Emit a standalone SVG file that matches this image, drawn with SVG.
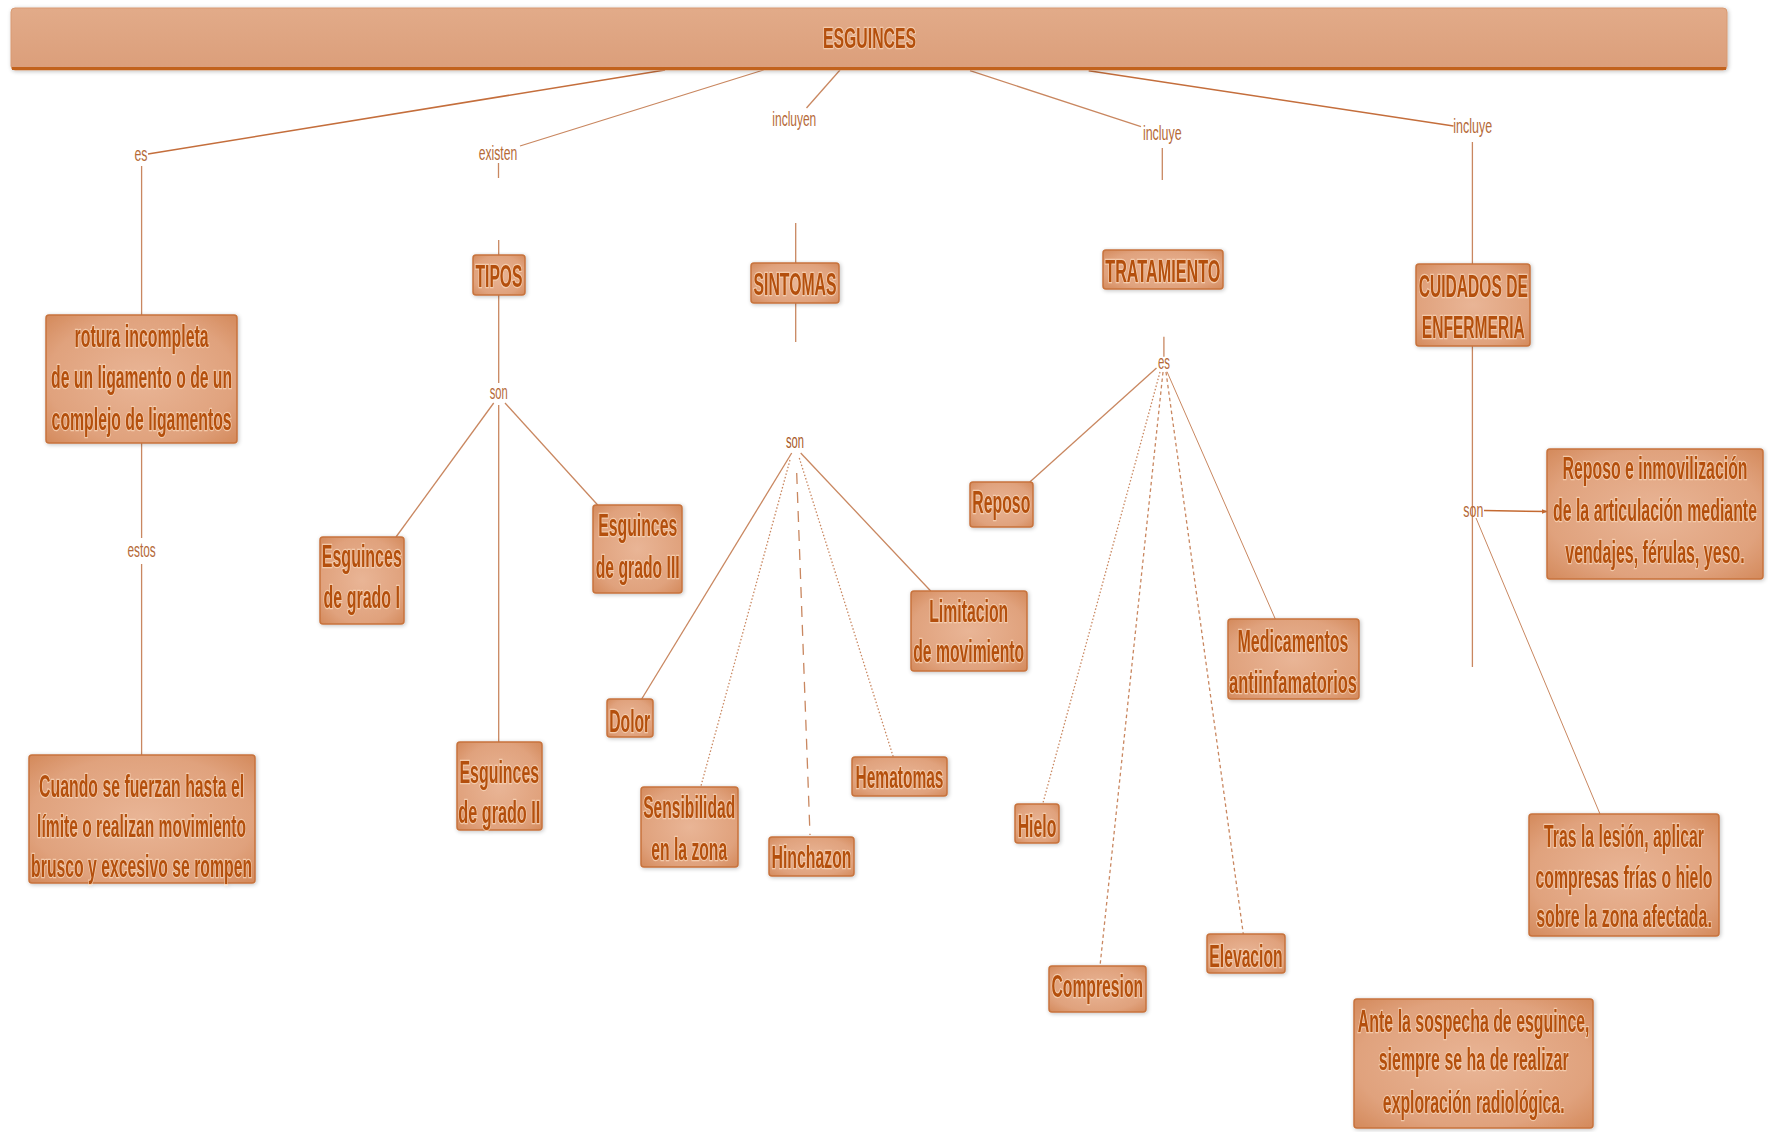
<svg xmlns="http://www.w3.org/2000/svg" width="1768" height="1132" viewBox="0 0 1768 1132">
<defs>
<radialGradient id="boxfill" cx="50%" cy="50%" r="70%">
<stop offset="0%" stop-color="#e9b596"/>
<stop offset="70%" stop-color="#e0a27d"/>
<stop offset="100%" stop-color="#d48a5c"/>
</radialGradient>
<linearGradient id="barfill" x1="0" y1="0" x2="0" y2="1">
<stop offset="0%" stop-color="#e2ab89"/>
<stop offset="100%" stop-color="#db9e7a"/>
</linearGradient>
<filter id="sh" x="-10%" y="-10%" width="130%" height="130%">
<feGaussianBlur in="SourceAlpha" stdDeviation="2"/>
<feOffset dx="1" dy="1" result="b"/>
<feComponentTransfer><feFuncA type="linear" slope="0.25"/></feComponentTransfer>
<feMerge><feMergeNode/><feMergeNode in="SourceGraphic"/></feMerge>
</filter>
<marker id="arr" viewBox="0 0 10 10" refX="9" refY="5" markerWidth="6" markerHeight="6" orient="auto" markerUnits="userSpaceOnUse">
<path d="M0,1 L10,5 L0,9 z" fill="#c46a32"/>
</marker>
</defs>
<style>
.box{fill:url(#boxfill);stroke:#c7733c;stroke-width:1.5}
.t{font-family:"Liberation Sans Narrow","Liberation Sans",Arial,sans-serif;font-weight:bold;font-size:31px;fill:#b4500c;text-anchor:middle;stroke:#f7d4b8;stroke-width:2.5;stroke-opacity:0.8;paint-order:stroke}
.lb{font-family:"Liberation Sans Narrow","Liberation Sans",Arial,sans-serif;font-size:20px;fill:#b56a38;text-anchor:middle}
.c{stroke:#c98760;stroke-width:1.3;fill:none}
.dot{stroke-dasharray:1.5 2}
.dsh{stroke-dasharray:3.5 3}
.ldsh{stroke-dasharray:11 8}
</style>
<rect width="1768" height="1132" fill="#ffffff"/>

<g id="connectors">
<line class="c" x1="665" y1="70" x2="148" y2="154" style="stroke:#c46e3c;stroke-width:1.6"/>
<line class="c" x1="141.6" y1="166" x2="141.6" y2="315"/>
<line class="c" x1="141.6" y1="443" x2="141.6" y2="538"/>
<line class="c" x1="141.6" y1="564" x2="141.6" y2="755"/>
<line class="c" x1="763.5" y1="70" x2="520" y2="146"/>
<line class="c" x1="498.5" y1="163" x2="498.5" y2="178"/>
<line class="c" x1="498.7" y1="240" x2="498.7" y2="255"/>
<line class="c" x1="498.7" y1="295" x2="498.7" y2="383"/>
<line class="c" x1="493.7" y1="403" x2="396" y2="537"/>
<line class="c" x1="505" y1="403" x2="597.7" y2="505"/>
<line class="c" x1="498.7" y1="405" x2="498.7" y2="742"/>
<line class="c" x1="840" y1="70" x2="806.5" y2="108"/>
<line class="c" x1="795.7" y1="223" x2="795.7" y2="263"/>
<line class="c" x1="795.7" y1="303" x2="795.7" y2="342"/>
<line class="c" x1="791.7" y1="453" x2="641.7" y2="699"/>
<line class="c dot" x1="790" y1="460" x2="700.7" y2="787"/>
<line class="c ldsh" x1="796.7" y1="473" x2="810" y2="835"/>
<line class="c dot" x1="799.3" y1="458" x2="893.3" y2="757"/>
<line class="c" x1="800.7" y1="453" x2="930.7" y2="591"/>
<line class="c" x1="970" y1="70.7" x2="1141" y2="126.7"/>
<line class="c" x1="1162.3" y1="148" x2="1162.3" y2="180"/>
<line class="c" x1="1163.9" y1="336.7" x2="1163.9" y2="356.7"/>
<line class="c" x1="1156.5" y1="368" x2="1029.8" y2="482"/>
<line class="c dot" x1="1160" y1="372" x2="1042.7" y2="804"/>
<line class="c dsh" x1="1163" y1="372" x2="1100" y2="966"/>
<line class="c dsh" x1="1166" y1="372" x2="1243.3" y2="934"/>
<line class="c" x1="1167" y1="371.7" x2="1275.3" y2="619" style="stroke-width:1"/>
<line class="c" x1="1088.7" y1="70.7" x2="1453.5" y2="126" style="stroke:#c46e3c;stroke-width:1.5"/>
<line class="c" x1="1472.4" y1="142" x2="1472.4" y2="264"/>
<line class="c" x1="1472.4" y1="346" x2="1472.4" y2="667"/>
<line class="c" x1="1484" y1="510.5" x2="1547" y2="511.5" style="stroke:#c46a32;stroke-width:1.5" marker-end="url(#arr)"/>
<line class="c" x1="1476" y1="518" x2="1600" y2="814" style="stroke-width:1"/>
</g>

<g id="title" filter="url(#sh)">
<rect x="11" y="8" width="1716" height="62" rx="4" fill="url(#barfill)" stroke="#d89a72" stroke-width="1"/>
<line x1="12" y1="68.5" x2="1726" y2="68.5" stroke="#c2621f" stroke-width="3"/>
<text class="t" x="869.5" y="48" textLength="93" lengthAdjust="spacingAndGlyphs" style="font-size:29px">ESGUINCES</text>
</g>

<g id="labels">
<text class="lb" x="141" y="160.7" textLength="13" lengthAdjust="spacingAndGlyphs">es</text>
<text class="lb" x="498" y="160" textLength="38.5" lengthAdjust="spacingAndGlyphs">existen</text>
<text class="lb" x="794.3" y="126" textLength="44" lengthAdjust="spacingAndGlyphs">incluyen</text>
<text class="lb" x="1162.3" y="140" textLength="38.8" lengthAdjust="spacingAndGlyphs">incluye</text>
<text class="lb" x="1472.7" y="133.3" textLength="38.8" lengthAdjust="spacingAndGlyphs">incluye</text>
<text class="lb" x="141.6" y="557.3" textLength="28.3" lengthAdjust="spacingAndGlyphs">estos</text>
<text class="lb" x="498.7" y="399.3" textLength="18" lengthAdjust="spacingAndGlyphs">son</text>
<text class="lb" x="795" y="448" textLength="18" lengthAdjust="spacingAndGlyphs" style="fill:#a85a28">son</text>
<text class="lb" x="1163.9" y="369" textLength="12" lengthAdjust="spacingAndGlyphs">es</text>
<text class="lb" x="1473.3" y="516.5" textLength="20" lengthAdjust="spacingAndGlyphs">son</text>
</g>

<g id="n-rotura" filter="url(#sh)">
<rect class="box" x="46" y="315" width="191" height="128" rx="3"/>
<text class="t" x="141.6" y="346.7" textLength="134" lengthAdjust="spacingAndGlyphs">rotura incompleta</text>
<text class="t" x="141.6" y="388.3" textLength="181" lengthAdjust="spacingAndGlyphs">de un ligamento o de un</text>
<text class="t" x="141.6" y="430" textLength="180" lengthAdjust="spacingAndGlyphs">complejo de ligamentos</text>
</g>
<g id="n-cuando" filter="url(#sh)">
<rect class="box" x="29" y="755" width="226" height="128" rx="3"/>
<text class="t" x="141.6" y="796.7" textLength="205" lengthAdjust="spacingAndGlyphs">Cuando se fuerzan hasta el</text>
<text class="t" x="141.6" y="836.7" textLength="209" lengthAdjust="spacingAndGlyphs">límite o realizan movimiento</text>
<text class="t" x="141.6" y="876.7" textLength="221" lengthAdjust="spacingAndGlyphs">brusco y excesivo se rompen</text>
</g>
<g id="n-tipos" filter="url(#sh)">
<rect class="box" x="473" y="255" width="52" height="40" rx="3"/>
<text class="t" x="499" y="287.3" textLength="47" lengthAdjust="spacingAndGlyphs">TIPOS</text>
</g>
<g id="n-grado1" filter="url(#sh)">
<rect class="box" x="320" y="537" width="84" height="87" rx="3"/>
<text class="t" x="361.8" y="566.7" textLength="80" lengthAdjust="spacingAndGlyphs">Esguinces</text>
<text class="t" x="361.8" y="608.3" textLength="76.5" lengthAdjust="spacingAndGlyphs">de grado I</text>
</g>
<g id="n-grado2" filter="url(#sh)">
<rect class="box" x="457" y="742" width="85" height="88" rx="3"/>
<text class="t" x="499.3" y="783.3" textLength="79.6" lengthAdjust="spacingAndGlyphs">Esguinces</text>
<text class="t" x="499.3" y="823.3" textLength="82" lengthAdjust="spacingAndGlyphs">de grado II</text>
</g>
<g id="n-grado3" filter="url(#sh)">
<rect class="box" x="593" y="505" width="89" height="88" rx="3"/>
<text class="t" x="637.7" y="536" textLength="79" lengthAdjust="spacingAndGlyphs">Esguinces</text>
<text class="t" x="637.7" y="578.3" textLength="84" lengthAdjust="spacingAndGlyphs">de grado III</text>
</g>
<g id="n-sintomas" filter="url(#sh)">
<rect class="box" x="751" y="263" width="88" height="40" rx="3"/>
<text class="t" x="795" y="295" textLength="83" lengthAdjust="spacingAndGlyphs">SINTOMAS</text>
</g>
<g id="n-dolor" filter="url(#sh)">
<rect class="box" x="607" y="699" width="46" height="38" rx="3"/>
<text class="t" x="629.7" y="731.7" textLength="41" lengthAdjust="spacingAndGlyphs">Dolor</text>
</g>
<g id="n-sensibilidad" filter="url(#sh)">
<rect class="box" x="641" y="787" width="97" height="80" rx="3"/>
<text class="t" x="689.2" y="818.3" textLength="92" lengthAdjust="spacingAndGlyphs">Sensibilidad</text>
<text class="t" x="689.2" y="860" textLength="76" lengthAdjust="spacingAndGlyphs">en la zona</text>
</g>
<g id="n-hinchazon" filter="url(#sh)">
<rect class="box" x="769" y="837" width="85" height="39" rx="3"/>
<text class="t" x="811.5" y="868.3" textLength="80" lengthAdjust="spacingAndGlyphs">Hinchazon</text>
</g>
<g id="n-hematomas" filter="url(#sh)">
<rect class="box" x="852" y="757" width="95" height="39" rx="3"/>
<text class="t" x="899.5" y="788.3" textLength="88" lengthAdjust="spacingAndGlyphs">Hematomas</text>
</g>
<g id="n-limitacion" filter="url(#sh)">
<rect class="box" x="911" y="591" width="116" height="80" rx="3"/>
<text class="t" x="968.7" y="621.7" textLength="79" lengthAdjust="spacingAndGlyphs">Limitacion</text>
<text class="t" x="968.7" y="661.7" textLength="111" lengthAdjust="spacingAndGlyphs">de movimiento</text>
</g>
<g id="n-tratamiento" filter="url(#sh)">
<rect class="box" x="1103" y="250" width="120" height="39" rx="3"/>
<text class="t" x="1162.8" y="281.7" textLength="115" lengthAdjust="spacingAndGlyphs">TRATAMIENTO</text>
</g>
<g id="n-reposo" filter="url(#sh)">
<rect class="box" x="970" y="482" width="63" height="45" rx="3"/>
<text class="t" x="1001.3" y="513.3" textLength="58" lengthAdjust="spacingAndGlyphs">Reposo</text>
</g>
<g id="n-hielo" filter="url(#sh)">
<rect class="box" x="1015" y="804" width="44" height="39" rx="3"/>
<text class="t" x="1037" y="836.7" textLength="38.7" lengthAdjust="spacingAndGlyphs">Hielo</text>
</g>
<g id="n-compresion" filter="url(#sh)">
<rect class="box" x="1049" y="966" width="97" height="46" rx="3"/>
<text class="t" x="1097.3" y="996.7" textLength="91.7" lengthAdjust="spacingAndGlyphs">Compresion</text>
</g>
<g id="n-elevacion" filter="url(#sh)">
<rect class="box" x="1207" y="934" width="78" height="39" rx="3"/>
<text class="t" x="1246" y="966.7" textLength="73.3" lengthAdjust="spacingAndGlyphs">Elevacion</text>
</g>
<g id="n-medicamentos" filter="url(#sh)">
<rect class="box" x="1228" y="619" width="131" height="80" rx="3"/>
<text class="t" x="1293" y="651.7" textLength="111" lengthAdjust="spacingAndGlyphs">Medicamentos</text>
<text class="t" x="1293" y="693.3" textLength="128" lengthAdjust="spacingAndGlyphs">antiinfamatorios</text>
</g>
<g id="n-cuidados" filter="url(#sh)">
<rect class="box" x="1416" y="264" width="114" height="82" rx="3"/>
<text class="t" x="1473.3" y="297.3" textLength="109" lengthAdjust="spacingAndGlyphs">CUIDADOS DE</text>
<text class="t" x="1473.3" y="338.3" textLength="103" lengthAdjust="spacingAndGlyphs">ENFERMERIA</text>
</g>
<g id="n-inmovilizacion" filter="url(#sh)">
<rect class="box" x="1547" y="449" width="216" height="130" rx="3"/>
<text class="t" x="1655" y="479.3" textLength="185" lengthAdjust="spacingAndGlyphs">Reposo e inmovilización</text>
<text class="t" x="1655" y="521" textLength="204" lengthAdjust="spacingAndGlyphs">de la articulación mediante</text>
<text class="t" x="1655" y="563.3" textLength="179.5" lengthAdjust="spacingAndGlyphs">vendajes, férulas, yeso.</text>
</g>
<g id="n-tras" filter="url(#sh)">
<rect class="box" x="1529" y="814" width="190" height="122" rx="3"/>
<text class="t" x="1624" y="846.7" textLength="160" lengthAdjust="spacingAndGlyphs">Tras la lesión, aplicar</text>
<text class="t" x="1624" y="888.3" textLength="177" lengthAdjust="spacingAndGlyphs">compresas frías o hielo</text>
<text class="t" x="1624" y="926.7" textLength="175.7" lengthAdjust="spacingAndGlyphs">sobre la zona afectada.</text>
</g>
<g id="n-ante" filter="url(#sh)">
<rect class="box" x="1354" y="999" width="239" height="129" rx="3"/>
<text class="t" x="1473.7" y="1031.7" textLength="231.7" lengthAdjust="spacingAndGlyphs">Ante la sospecha de esguince,</text>
<text class="t" x="1473.7" y="1070" textLength="190" lengthAdjust="spacingAndGlyphs">siempre se ha de realizar</text>
<text class="t" x="1473.7" y="1113.3" textLength="181.7" lengthAdjust="spacingAndGlyphs">exploración radiológica.</text>
</g>
</svg>
